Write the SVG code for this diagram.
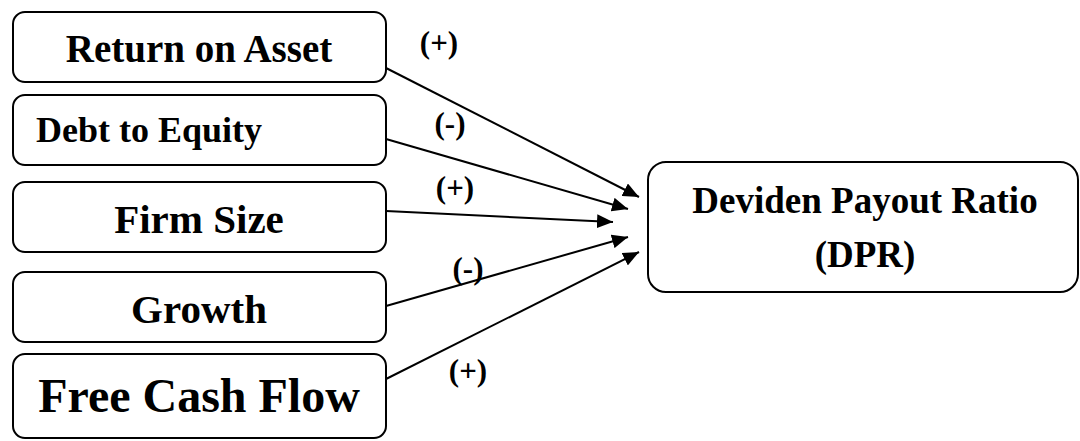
<svg xmlns="http://www.w3.org/2000/svg" width="1080" height="441" viewBox="0 0 1080 441">
<style>
.box{fill:#fff;stroke:#000;stroke-width:2}
.t{font-family:"Liberation Serif","Times New Roman",serif;font-weight:bold;fill:#000;text-anchor:middle}
.lbl{font-family:"Liberation Serif","Times New Roman",serif;font-weight:bold;font-size:31px;fill:#000;text-anchor:middle}
.c{stroke:#000;stroke-width:2;fill:none;marker-end:url(#ah)}
</style>
<defs>
<marker id="ah" markerUnits="userSpaceOnUse" markerWidth="17" markerHeight="14" refX="16" refY="7" orient="auto" viewBox="0 0 17 14">
<path d="M0,0 L16,7 L0,14 z" fill="#000"/>
</marker>
</defs>
<rect width="1080" height="441" fill="#fff"/>
<g id="roa"><rect class="box" x="13" y="12" width="373" height="70" rx="12"/><text class="t" x="199" y="62" font-size="39">Return on Asset</text></g>
<g id="der"><rect class="box" x="13" y="95" width="373" height="70" rx="12"/><text class="t" x="36" y="142" font-size="36" style="text-anchor:start">Debt to Equity</text></g>
<g id="size"><rect class="box" x="13" y="182" width="373" height="70" rx="12"/><text class="t" x="199" y="233" font-size="41">Firm Size</text></g>
<g id="growth"><rect class="box" x="13" y="272" width="373" height="70" rx="12"/><text class="t" x="199" y="323" font-size="41">Growth</text></g>
<g id="fcf"><rect class="box" x="13" y="354" width="373" height="84" rx="12"/><text class="t" x="199" y="412" font-size="48">Free Cash Flow</text></g>
<g id="dpr"><rect class="box" x="648" y="162" width="430" height="130" rx="18"/><text class="t" x="865" y="213" font-size="37">Deviden Payout Ratio</text><text class="t" x="865" y="267" font-size="37">(DPR)</text></g>
<g id="connectors">
<line class="c" x1="386" y1="68" x2="639" y2="197"/>
<line class="c" x1="386" y1="139" x2="628" y2="209"/>
<line class="c" x1="386" y1="211" x2="613" y2="222"/>
<line class="c" x1="386" y1="306" x2="628" y2="237"/>
<line class="c" x1="386" y1="379" x2="639" y2="252"/>
</g>
<g id="labels">
<text class="lbl" x="439" y="53">(+)</text>
<text class="lbl" x="450" y="134">(-)</text>
<text class="lbl" x="455" y="198">(+)</text>
<text class="lbl" x="468" y="279">(-)</text>
<text class="lbl" x="468" y="381">(+)</text>
</g>
</svg>
